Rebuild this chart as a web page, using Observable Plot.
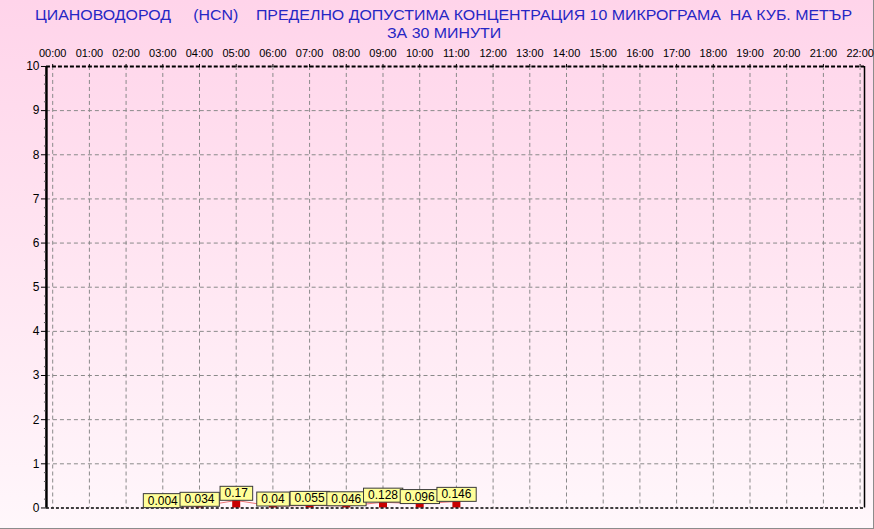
<!DOCTYPE html>
<html><head><meta charset="utf-8">
<script src="https://cdn.jsdelivr.net/npm/d3@7"></script>
<script src="https://cdn.jsdelivr.net/npm/@observablehq/plot@0.6"></script>
<style>
html,body{margin:0;padding:0;}
body{width:874px;height:529px;overflow:hidden;background:#fff;}
#wrap{position:relative;width:873px;height:528px;border-right:1px solid #8c8c8c;border-bottom:1px solid #8c8c8c;
  background:linear-gradient(to bottom,#ffd4ea 0%,#ffe2f0 40%,#fff7fb 100%);font-family:"Liberation Sans",Arial,sans-serif;}
#title{position:absolute;left:0;top:0;width:874px;height:42px;color:#2626c4;font-size:15px;line-height:15px;}
.tl{position:absolute;display:block;height:15px;line-height:15px;white-space:pre;left:0;transform-origin:0 0;}
#chart{position:absolute;left:0;top:42px;}
</style>
</head><body>
<div id="wrap">
  <div id="title"><div class="tl" id="t1">ЦИАНОВОДОРОД     (HCN)    ПРЕДЕЛНО ДОПУСТИМА КОНЦЕНТРАЦИЯ 10 МИКРОГРАМА  НА КУБ. МЕТЪР</div><div class="tl" id="t2">ЗА 30 МИНУТИ</div></div>
  <div id="chart"></div>
</div>
<script>
// data
const hours = [3, 4, 5, 6, 7, 8, 9, 10, 11];
const values = [0.004, 0.034, 0.17, 0.04, 0.055, 0.046, 0.128, 0.096, 0.146];
const hourTicks = [0,1,2,3,4,5,6,7,8,9,10,11,12,13,14,15,16,17,18,19,20,21,22];
const hourLabels = ["00:00","01:00","02:00","03:00","04:00","05:00","06:00","07:00","08:00","09:00","10:00","11:00",
  "12:00","13:00","14:00","15:00","16:00","17:00","18:00","19:00","20:00","21:00","22:00"];
const yTicks = [0,1,2,3,4,5,6,7,8,9,10];
const yGrid = [1,2,3,4,5,6,7,8,9];
const yMinor = d3.range(0, 50).map(i => i / 5).filter(v => !Number.isInteger(v));
const xDomain = [-0.17, 22.12];
const yDomain = [0, 10];

const data = hours.map((h, i) => ({hour: h, value: values[i]}));

// title layout
const t1 = document.getElementById("t1"), t2 = document.getElementById("t2");
const w1 = t1.getBoundingClientRect().width;
const s = 817 / w1;
t1.style.transform = `scaleX(${s})`;
t1.style.left = (443 - w1 * s / 2) + "px";
t1.style.top = "7px";
const w2 = t2.getBoundingClientRect().width;
t2.style.transform = `scaleX(${s})`;
t2.style.left = (444 - w2 * s / 2) + "px";
t2.style.top = "24.5px";

const grid = "#8a8a8a";
const plot = Plot.plot({
  width: 874,
  height: 487,
  marginTop: 24,
  marginBottom: 21,
  marginLeft: 46,
  marginRight: 9,
  style: {background: "transparent", fontFamily: "'Liberation Sans', Arial, sans-serif", fontSize: "11px", overflow: "visible"},
  x: {domain: xDomain},
  y: {domain: yDomain},
  marks: [
    Plot.ruleX(hourTicks, {stroke: grid, strokeDasharray: "4,3", strokeWidth: 1}),
    Plot.ruleY(yGrid, {stroke: grid, strokeDasharray: "4,3", strokeWidth: 1}),
    Plot.ruleX(data, {x: "hour", y1: 0, y2: "value", stroke: "#c80000", strokeWidth: 8}),
    Plot.line(data, {x: "hour", y: "value", stroke: "#e02020", strokeWidth: 1, strokeOpacity: 0.6}),
    Plot.ruleY([yDomain[1]], {stroke: "#000", strokeWidth: 2, strokeDasharray: "4,2"}),
    Plot.ruleY([yDomain[0]], {stroke: "#000", strokeWidth: 1.5, strokeDasharray: "3,2"}),
    Plot.ruleX([xDomain[1]], {stroke: "#000", strokeWidth: 1.5}),
    Plot.ruleX([xDomain[0]], {stroke: "#000", strokeWidth: 2.5}),
    Plot.axisX({anchor: "top", ticks: hourTicks, tickFormat: i => hourLabels[i], tickSize: 3, tickPadding: 6, label: null, fill: "#000", stroke: "#000"}),
    Plot.axisY({ticks: yTicks, tickSize: 5, tickPadding: 2, label: null, fill: "#000", stroke: "#000", fontSize: 12}),
    Plot.axisY({ticks: yMinor, tickSize: 2, tickFormat: () => "", label: null, stroke: "#555"}),
    Plot.text(data, {x: "hour", y: "value", text: d => String(d.value), dy: -7, fontSize: 12, fill: "#000"})
  ]
});
document.getElementById("chart").appendChild(plot);

// yellow label boxes behind each value label
const tg = plot.querySelector('g[aria-label="text"]');
if (tg) {
  tg.querySelectorAll("text").forEach(t => {
    const bb = t.getBBox();
    const r = document.createElementNS("http://www.w3.org/2000/svg", "rect");
    const cy = bb.y + bb.height / 2;
    r.setAttribute("x", bb.x - 4.5);
    r.setAttribute("y", cy - 7);
    r.setAttribute("width", bb.width + 9);
    r.setAttribute("height", 14);
    r.setAttribute("fill", "#ffff99");
    r.setAttribute("stroke", "#3a3a3a");
    r.setAttribute("stroke-width", 1);
    const tr = t.getAttribute("transform");
    if (tr) r.setAttribute("transform", tr);
    t.parentNode.insertBefore(r, t);
  });
}
</script>
</body></html>
